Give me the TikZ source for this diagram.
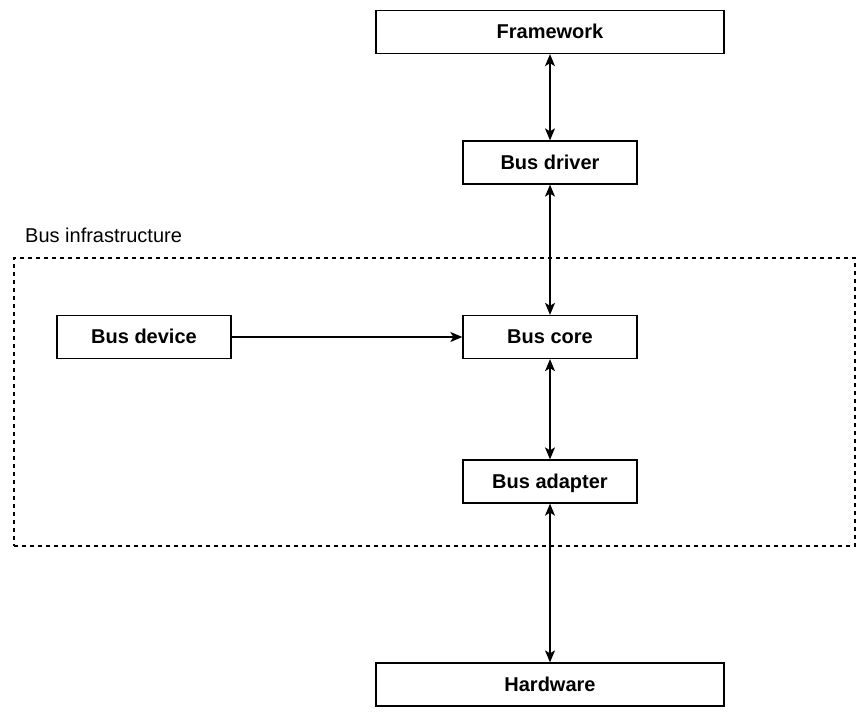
\documentclass[tikz,border=0pt]{standalone}
\usepackage{fontspec}
\setmainfont{Liberation Sans}
\usetikzlibrary{arrows.meta}
\tikzset{
  box/.style={draw, line width=1.3pt, minimum height=43pt, inner sep=0pt, text height=15pt, text depth=1.6pt, font=\fontsize{20}{24}\selectfont\bfseries},
  wide/.style={box, minimum width=348pt},
  narrow/.style={box, minimum width=174pt},
  link/.style={line width=1.3pt, {Stealth[length=12pt,width=10pt,inset=3pt]}-{Stealth[length=12pt,width=10pt,inset=3pt]}},
  onelink/.style={line width=1.3pt, -{Stealth[length=12pt,width=10pt,inset=3pt]}},
  frame/.style={draw, line width=1.3pt, dash pattern=on 4pt off 4pt}
}
\begin{document}
\begin{tikzpicture}[x=1pt,y=-1pt]
\useasboundingbox (0,0) rectangle (867,715);
\node[frame, minimum width=841pt, minimum height=288pt, inner sep=0pt] (infra) at (434.5,402) {};
\node[anchor=west, inner sep=0pt, font=\fontsize{20}{24}\selectfont] (lbl) at (25,235.5) {Bus infrastructure};
\node[wide] (fw) at (550,32) {Framework};
\node[narrow] (drv) at (550,162.5) {Bus driver};
\node[narrow] (core) at (550,337) {Bus core};
\node[narrow] (adp) at (550,481.5) {Bus adapter};
\node[wide] (hw) at (550,684.5) {Hardware};
\node[narrow] (dev) at (144,337) {Bus device};
\draw[link] (fw) -- (drv);
\draw[link] (drv) -- (core);
\draw[link] (core) -- (adp);
\draw[link] (adp) -- (hw);
\draw[onelink] (dev) -- (core);
\end{tikzpicture}
\end{document}
